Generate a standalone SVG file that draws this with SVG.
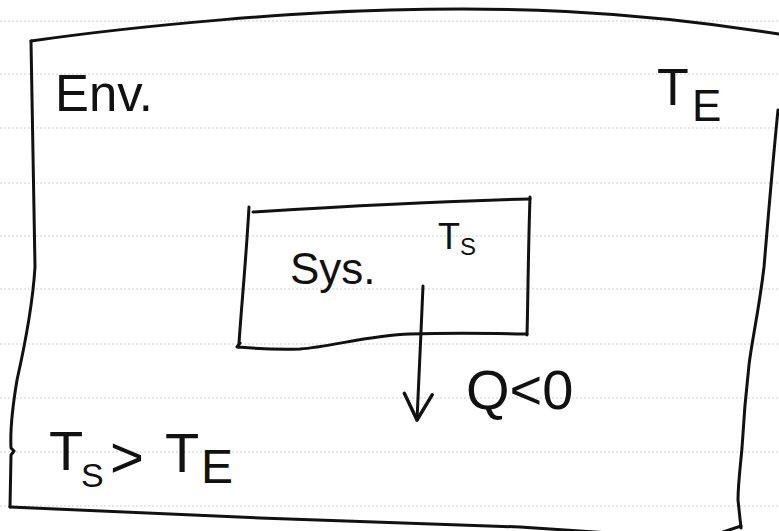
<svg xmlns="http://www.w3.org/2000/svg" width="779" height="531" viewBox="0 0 779 531">
  <style>
    .rule { stroke: #cfcfcf; stroke-width: 1; stroke-dasharray: 2 2; fill: none; }
    .pen { stroke: #111; stroke-width: 3; fill: none; stroke-linecap: round; stroke-linejoin: round; }
    .ink { font-family: "Liberation Sans", Arial, sans-serif; fill: #111; }
  </style>
  <defs>
    <marker id="openHead" viewBox="-30 -17 34 34" refX="0" refY="0" markerWidth="34" markerHeight="34" markerUnits="userSpaceOnUse" orient="auto">
      <path d="M-26,-14 L0,0 L-26,14" fill="none" stroke="#111" stroke-width="3.4" stroke-linecap="round" stroke-linejoin="round"/>
    </marker>
  </defs>

  <rect width="779" height="531" fill="#ffffff"/>

  <!-- ruled notebook paper -->
  <g id="paper">
    <line class="rule" x1="0" y1="21" x2="779" y2="21"/>
    <line class="rule" x1="0" y1="74" x2="779" y2="74"/>
    <line class="rule" x1="0" y1="128" x2="779" y2="128"/>
    <line class="rule" x1="0" y1="183" x2="779" y2="183"/>
    <line class="rule" x1="0" y1="236" x2="779" y2="236"/>
    <line class="rule" x1="0" y1="289" x2="779" y2="289"/>
    <line class="rule" x1="0" y1="344" x2="779" y2="344"/>
    <line class="rule" x1="0" y1="398" x2="779" y2="398"/>
    <line class="rule" x1="0" y1="452" x2="779" y2="452"/>
    <line class="rule" x1="0" y1="506" x2="779" y2="506"/>
  </g>

  <!-- environment -->
  <g id="environment">
    <path class="pen" d="M31,41 C150,24 300,12 390,10 C500,7 620,9 779,34"/>
    <path class="pen" d="M778,110 C772,170 768,220 764,267 C759,310 752,340 749,365 C745,400 743,430 742,448 C740,470 738,485 738,500 L741,528"/>
    <path class="pen" d="M31,41 L35,267 C33,300 26,340 17,380 C12,410 10,430 11,448 L14,451 L11,455 L10,507"/>
    <path class="pen" d="M10,507 L260,518 L520,527 L640,535"/>
    <path class="pen" d="M714,535 L741,526"/>
    <text class="ink" x="55" y="111" font-size="52" textLength="98" lengthAdjust="spacingAndGlyphs">Env.</text>
    <text class="ink" x="657" y="105" font-size="52">T<tspan x="692" y="121" font-size="44">E</tspan></text>
    <text class="ink" font-size="56"><tspan x="49" y="470">T</tspan><tspan x="81" y="487" font-size="34">S</tspan><tspan x="110" y="477" font-size="58">&gt;</tspan><tspan x="165" y="472">T</tspan><tspan x="201" y="483" font-size="48">E</tspan></text>
  </g>

  <!-- system -->
  <g id="system">
    <path class="pen" d="M253,212 C350,206 450,201 530,199"/>
    <path class="pen" d="M530,197 C528,260 528,300 527,335"/>
    <path class="pen" d="M527,334 C480,333 440,333 410,334 C370,335 330,347 300,349 C270,350 250,348 237,347 L240,343"/>
    <path class="pen" d="M249,207 C246,260 242,300 239,343"/>
    <text class="ink" x="290" y="284" font-size="44">Sys.</text>
    <text class="ink" x="438" y="249" font-size="36">T<tspan x="460" y="255" font-size="24">S</tspan></text>
  </g>

  <!-- heat flow -->
  <g id="connectors">
    <path class="pen" stroke-width="3.4" d="M423,286 C421,330 419,380 417,420" marker-end="url(#openHead)"/>
    <text class="ink" x="466" y="409" font-size="56">Q&lt;0</text>
  </g>
</svg>
